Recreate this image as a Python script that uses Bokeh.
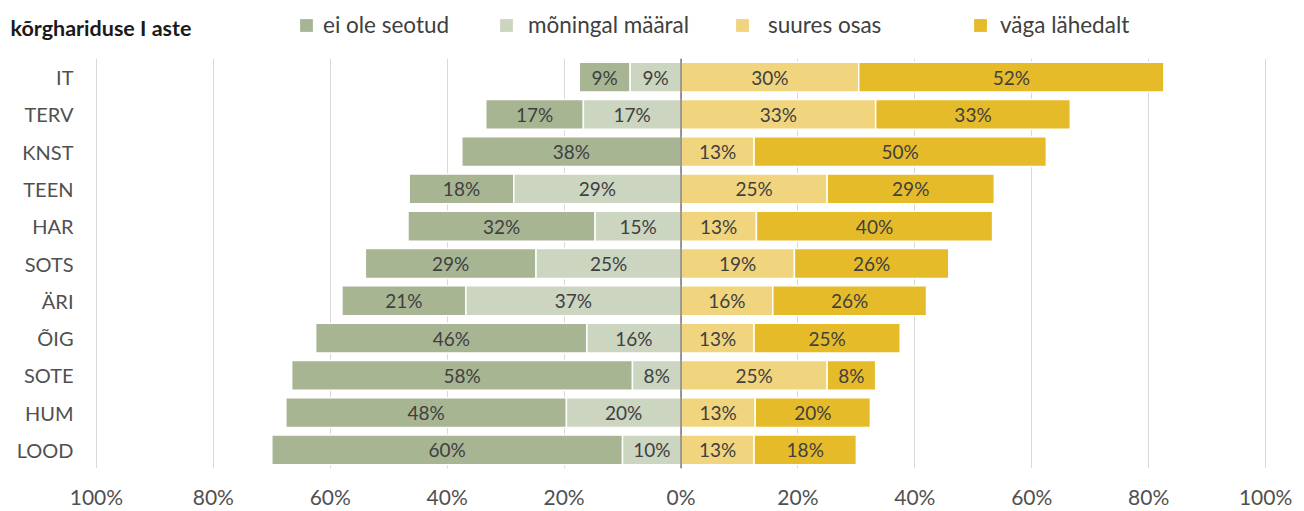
from bokeh.plotting import figure
from bokeh.layouts import column
from bokeh.models import (ColumnDataSource, Legend, LegendItem, Label, Span,
                          FixedTicker, Range1d, FactorRange)
from bokeh.embed import file_html
from bokeh.resources import INLINE
from bokeh.core.properties import value

title_text = "kõrghariduse I aste"
categories = ["IT", "TERV", "KNST", "TEEN", "HAR", "SOTS", "ÄRI", "ÕIG", "SOTE", "HUM", "LOOD"]
series_names = ["ei ole seotud", "mõningal määral", "suures osas", "väga lähedalt"]
ei_ole = [8.7, 16.7, 37.5, 17.9, 32.0, 29.2, 21.2, 46.4, 58.3, 48.0, 60.0]
moningal = [8.7, 16.7, 0.0, 28.6, 14.7, 24.8, 36.8, 16.1, 8.3, 19.6, 10.0]
suures = [30.4, 33.3, 12.5, 25.0, 12.9, 19.4, 15.7, 12.5, 25.0, 12.7, 12.5]
vaga = [52.2, 33.3, 50.0, 28.6, 40.4, 26.4, 26.3, 25.0, 8.3, 19.7, 17.5]
tick_values = [-100, -80, -60, -40, -20, 0, 20, 40, 60, 80, 100]

colors = ["#a7b593", "#cbd5c0", "#f0d57e", "#e6bb2a"]
FONT = "Lato"
TXT = "#404040"
W = 1300
HEAD_H = 50

def pct(v):
    return f"{int(v + 0.5)}%"

left_m = [-m for m in moningal]
right_m = [0.0] * len(categories)
left_e = [-(m + e) for m, e in zip(moningal, ei_ole)]
right_e = left_m
left_s = [0.0] * len(categories)
right_s = suures
left_v = suures
right_v = [s + v for s, v in zip(suures, vaga)]

# ---------- main chart ----------
p = figure(width=W, height=461, output_backend="svg", toolbar_location=None,
           x_range=Range1d(-100.5, 100.5), y_range=FactorRange(factors=categories[::-1]),
           min_border_left=93, min_border_right=32, min_border_top=8, min_border_bottom=42)
p.frame_align = False
p.outline_line_color = None
p.background_fill_color = "white"
p.border_fill_color = "white"

for vals, col, lft, rgt in [
        (ei_ole, colors[0], left_e, right_e),
        (moningal, colors[1], left_m, right_m),
        (suures, colors[2], left_s, right_s),
        (vaga, colors[3], left_v, right_v)]:
    src = ColumnDataSource(dict(
        y=categories, left=lft, right=rgt, v=vals,
        mid=[(a + b) / 2 for a, b in zip(lft, rgt)],
        lab=[pct(x) if x > 0 else "" for x in vals]))
    p.hbar(y="y", left="left", right="right", height=0.8, source=src,
           fill_color=col, line_color="white", line_width=1.5)
    p.text(x="mid", y="y", text="lab", source=src, text_align="center",
           text_baseline="middle", text_font=value(FONT), text_font_size="19px",
           text_color=TXT)

p.add_layout(Span(location=0, dimension="height", line_color="#3a3a3a", line_width=1))

p.xaxis.ticker = FixedTicker(ticks=tick_values)
p.xaxis.major_label_overrides = {t: f"{abs(t)}%" for t in tick_values}
p.xaxis.axis_line_color = None
p.xaxis.major_tick_line_color = None
p.xaxis.minor_tick_line_color = None
p.xaxis.major_label_standoff = 9
p.xaxis.major_label_text_font = FONT
p.xaxis.major_label_text_font_size = "21px"
p.xaxis.major_label_text_color = "#505050"

p.yaxis.axis_line_color = None
p.yaxis.major_tick_line_color = None
p.yaxis.minor_tick_line_color = None
p.yaxis.major_label_standoff = 14
p.yaxis.major_label_text_font = FONT
p.yaxis.major_label_text_font_size = "20px"
p.yaxis.major_label_text_color = "#505050"

p.xgrid.grid_line_color = "#d9d9d9"
p.xgrid.grid_line_width = 1
p.ygrid.grid_line_color = None

# ---------- header: title + legend ----------
h = figure(width=W, height=HEAD_H, output_backend="svg", toolbar_location=None,
           x_range=Range1d(0, W), y_range=Range1d(0, HEAD_H),
           x_axis_type=None, y_axis_type=None,
           min_border_left=0, min_border_right=0, min_border_top=0, min_border_bottom=0)
h.frame_align = False
h.outline_line_color = None
h.xgrid.visible = False
h.ygrid.visible = False

h.add_layout(Label(x=10, y=23, text=title_text, text_font=FONT, text_font_style="bold",
                   text_font_size="21.5px", text_color="#1a1a1a", text_baseline="middle"))

legend_x = [298, 498, 734, 972]
legend_standoff = [9, 14, 18, 12]
for name, col, lx, so in zip(series_names, colors, legend_x, legend_standoff):
    # zero-size renderer that only provides the legend swatch style
    dummy = h.hbar(y=[0], left=[0], right=[0], height=0, fill_color=col, line_color=None)
    lg = Legend(items=[LegendItem(label=name, renderers=[dummy])],
                location=(lx, 12), glyph_width=16, glyph_height=16, label_standoff=so,
                padding=0, margin=0, border_line_color=None, background_fill_alpha=0,
                label_text_font=FONT, label_text_font_size="22.5px", label_text_color=TXT)
    h.add_layout(lg, "center")

layout = column(h, p, spacing=0)
open("out.html", "w").write(file_html(layout, INLINE))
